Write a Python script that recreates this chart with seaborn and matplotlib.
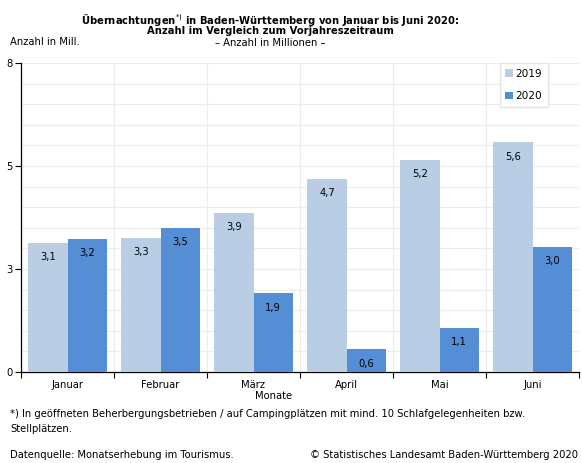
import numpy as np
import pandas as pd
import matplotlib
matplotlib.use("Agg")
import matplotlib.pyplot as plt
import seaborn as sns

# Data
monate = ["Januar", "Februar", "März", "April", "Mai", "Juni"]
werte_2019 = [3.14, 3.26, 3.87, 4.69, 5.15, 5.58]
werte_2020 = [3.24, 3.50, 1.91, 0.55, 1.07, 3.04]
labels_2019 = ["3,1", "3,3", "3,9", "4,7", "5,2", "5,6"]
labels_2020 = ["3,2", "3,5", "1,9", "0,6", "1,1", "3,0"]
jahre = ["2019", "2020"]
farben = ["#b9cde5", "#558ed5"]

ytick_pos = [0, 2.5, 5, 7.5]
ytick_lab = ["0", "3", "5", "8"]

df = pd.DataFrame({
    "Monat": monate * 2,
    "Jahr": [jahre[0]] * len(monate) + [jahre[1]] * len(monate),
    "Wert": werte_2019 + werte_2020,
})

sns.set_theme(style="white")
plt.rcParams["font.family"] = ["DejaVu Sans"]
plt.rcParams["text.color"] = "black"
plt.rcParams["xtick.color"] = "black"
plt.rcParams["ytick.color"] = "black"
fs = 7.2

fig = plt.figure(figsize=(5.82, 4.63), dpi=100)
ax = fig.add_axes([21 / 582, 1 - 372 / 463, 558 / 582, 309 / 463])

sns.barplot(data=df, x="Monat", y="Wert", hue="Jahr", palette=farben,
            width=0.84, gap=0, saturation=1, linewidth=0, ax=ax, legend=True, zorder=3)

# data labels inside the top of each bar
for cont, labs in zip(ax.containers, [labels_2019, labels_2020]):
    for bar, lab in zip(cont, labs):
        ax.annotate(lab, (bar.get_x() + bar.get_width() / 2, bar.get_height()),
                    xytext=(0, -14), textcoords="offset points", ha="center",
                    va="bottom", fontsize=fs, color="black", zorder=4)

ax.set_xlim(-0.5, 5.5)
ax.set_ylim(0, 7.5)
ax.set_yticks(ytick_pos)
ax.set_yticklabels(ytick_lab, fontsize=fs)
ax.set_yticks(np.arange(0, 7.51, 0.5), minor=True)
ax.set_xticks(np.arange(-0.5, 6, 1), minor=True)
ax.tick_params(axis="x", which="major", length=0, labelsize=fs, pad=6)
ax.tick_params(axis="x", which="minor", length=4, width=0.8, direction="out", bottom=True)
ax.tick_params(axis="y", which="major", length=4, width=0.8, direction="out", left=True, pad=2)
ax.tick_params(axis="y", which="minor", length=0)
ax.grid(False)
ax.grid(True, axis="y", which="both", color="#ececec", linewidth=0.8, zorder=0)
ax.grid(True, axis="x", which="minor", color="#ececec", linewidth=0.8, zorder=0)
ax.set_axisbelow(True)
for s in ["top", "right"]:
    ax.spines[s].set_visible(False)
for s in ["left", "bottom"]:
    ax.spines[s].set_color("black")
    ax.spines[s].set_linewidth(0.9)

ax.set_xlabel("")
ax.set_ylabel("")
fig.text(274 / 582, 1 - 396 / 463, "Monate", ha="center", va="center", fontsize=fs)
fig.text(10 / 582, 1 - 42 / 463, "Anzahl in Mill.", ha="left", va="center", fontsize=fs)

# legend
handles, lbls = ax.get_legend_handles_labels()
ax.legend(handles, lbls, loc="upper right", bbox_to_anchor=(548 / 582, 1 - 63 / 463),
          bbox_transform=fig.transFigure, borderaxespad=0, fontsize=fs + 0.4,
          frameon=True, fancybox=False, edgecolor="#e4e4e4", framealpha=1,
          handlelength=0.7, handleheight=0.7, handletextpad=0.25,
          labelspacing=1.2, borderpad=0.55)

# titles
fig.text(270 / 582, 1 - 19 / 463,
         "Übernachtungen$^{*)}$ in Baden-Württemberg von Januar bis Juni 2020:",
         ha="center", va="center", fontsize=fs, fontweight="bold")
fig.text(270 / 582, 1 - 31 / 463, "Anzahl im Vergleich zum Vorjahreszeitraum",
         ha="center", va="center", fontsize=fs, fontweight="bold")
fig.text(270 / 582, 1 - 43 / 463, "– Anzahl in Millionen –",
         ha="center", va="center", fontsize=fs)

# footnotes
fig.text(10 / 582, 1 - 414 / 463,
         "*) In geöffneten Beherbergungsbetrieben / auf Campingplätzen mit mind. 10 Schlafgelegenheiten bzw.",
         ha="left", va="center", fontsize=fs)
fig.text(10 / 582, 1 - 429 / 463, "Stellplätzen.", ha="left", va="center", fontsize=fs)
fig.text(10 / 582, 1 - 455 / 463, "Datenquelle: Monatserhebung im Tourismus.",
         ha="left", va="center", fontsize=fs)
fig.text(578 / 582, 1 - 455 / 463, "© Statistisches Landesamt Baden-Württemberg 2020",
         ha="right", va="center", fontsize=fs)

fig.savefig("out.png", dpi=100)
